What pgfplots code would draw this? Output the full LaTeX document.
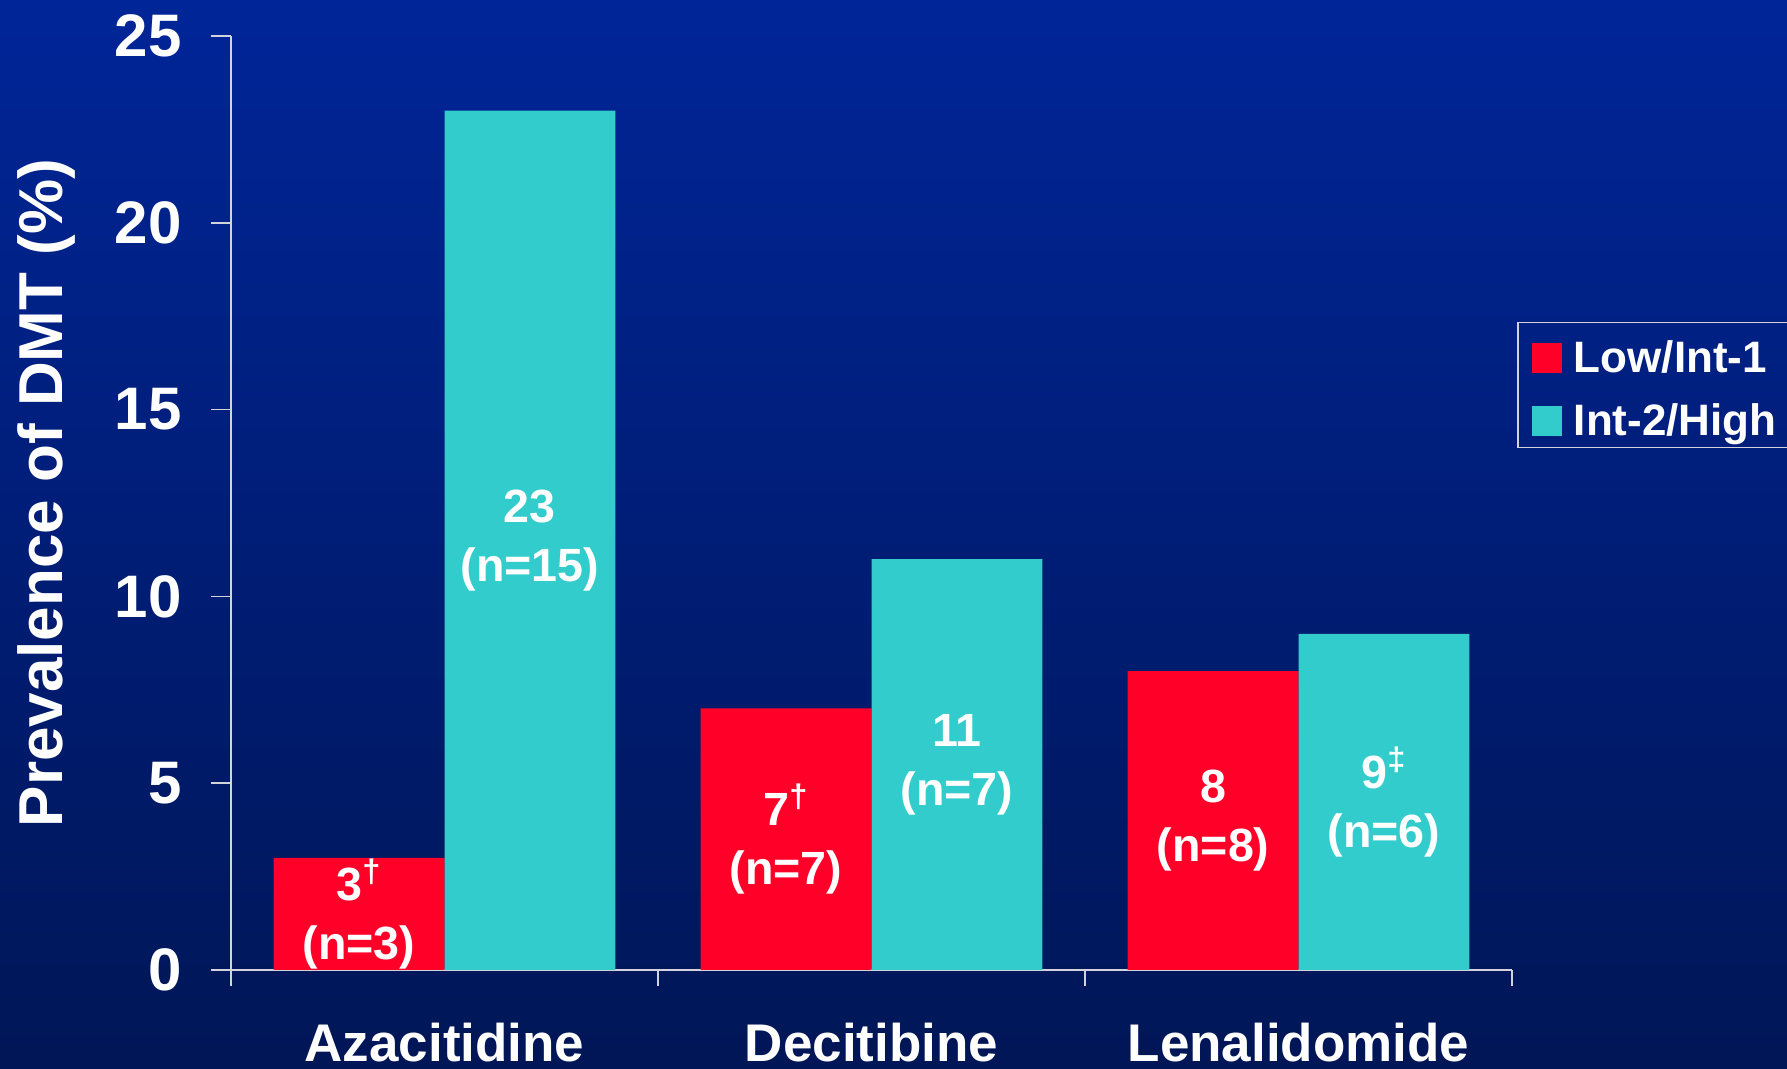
\documentclass[border=0pt]{standalone}
\usepackage{fontspec}
\setmainfont{Liberation Sans}
\usepackage{pgfplots}
\pgfplotsset{compat=1.18}
\definecolor{bgtop}{RGB}{0,37,152}
\definecolor{bgbot}{RGB}{0,22,86}
\definecolor{lowred}{RGB}{255,0,41}
\definecolor{highcyan}{RGB}{51,204,204}
\definecolor{axisgray}{RGB}{210,212,220}
\begin{document}
\begin{tikzpicture}[x=1pt,y=1pt]
\shade[top color=bgtop, bottom color=bgbot] (0,0) rectangle (893.5,534.5);
\begin{axis}[
  at={(115.5pt,49.5pt)}, anchor=south west,
  scale only axis, width=640.5pt, height=467pt,
  xmin=-0.5, xmax=2.5, ymin=0, ymax=25,
  axis lines=left,
  axis line style={axisgray, line width=0.75pt, -},
  tick align=outside,
  major tick length=10pt, minor tick length=8pt,
  ytick={0,5,10,15,20,25},
  yticklabels={0,5,10,15,20,25},
  ytick style={axisgray, line width=0.75pt},
  yticklabel style={font=\bfseries\fontsize{30}{36}\selectfont, text=white, anchor=east, inner sep=0pt, xshift=-14.5pt},
  xtick={0,1,2},
  xticklabels={Azacitidine,Decitibine,Lenalidomide},
  minor xtick={-0.5,0.5,1.5,2.5},
  major x tick style={draw=none},
  minor x tick style={axisgray, line width=0.75pt},
  xticklabel style={font=\bfseries\fontsize{26.5}{32}\selectfont, text=white, anchor=base, inner sep=0pt, yshift=-35.5pt},
  ylabel={Prevalence of DMT (\%)},
  every axis y label/.style={at={(axis description cs:-0.1319,0.5107)}, rotate=90, anchor=base, font=\bfseries\fontsize{31}{37}\selectfont, text=white},
  legend style={at={(rel axis cs:1.0039,0.6938)}, anchor=north west, draw=axisgray, line width=0.75pt, fill=none, text=white,
    font=\bfseries\fontsize{22}{26}\selectfont, inner xsep=7pt, inner ysep=6pt, row sep=12.5pt,
    nodes={inner sep=0pt, text height=19pt, text depth=0pt},
    /tikz/every odd column/.style={column sep=6pt}},
  legend cell align=left,
  legend image code/.code={\fill[#1] (0pt,-9.5pt) rectangle (15pt,5.5pt);},
  bar width=0.4,
  clip=false,
]
\addplot[ybar, bar shift=-0.2, fill=lowred, draw=none] coordinates {(0,3) (1,7) (2,8)};
\addlegendentry{Low/Int-1}
\addplot[ybar, bar shift=0.2, fill=highcyan, draw=none] coordinates {(0,23) (1,11) (2,9)};
\addlegendentry{Int-2/High}
\tikzset{barlab/.style={text=white, align=center, font=\bfseries\fontsize{23.3}{29.5}\selectfont, inner sep=0pt}}
\node[barlab] at (axis cs:-0.2,1.5) {3\textsuperscript{†}\\(n=3)};
\node[barlab] at (axis cs:0.2,11.5) {23\\(n=15)};
\node[barlab] at (axis cs:0.8,3.5) {7\textsuperscript{†}\\(n=7)};
\node[barlab] at (axis cs:1.2,5.5) {11\\(n=7)};
\node[barlab] at (axis cs:1.8,4) {8\\(n=8)};
\node[barlab] at (axis cs:2.2,4.5) {9\textsuperscript{‡}\\(n=6)};
\end{axis}
\pgfresetboundingbox
\useasboundingbox (0,0) rectangle (893.5,534.5);
\end{tikzpicture}
\end{document}
